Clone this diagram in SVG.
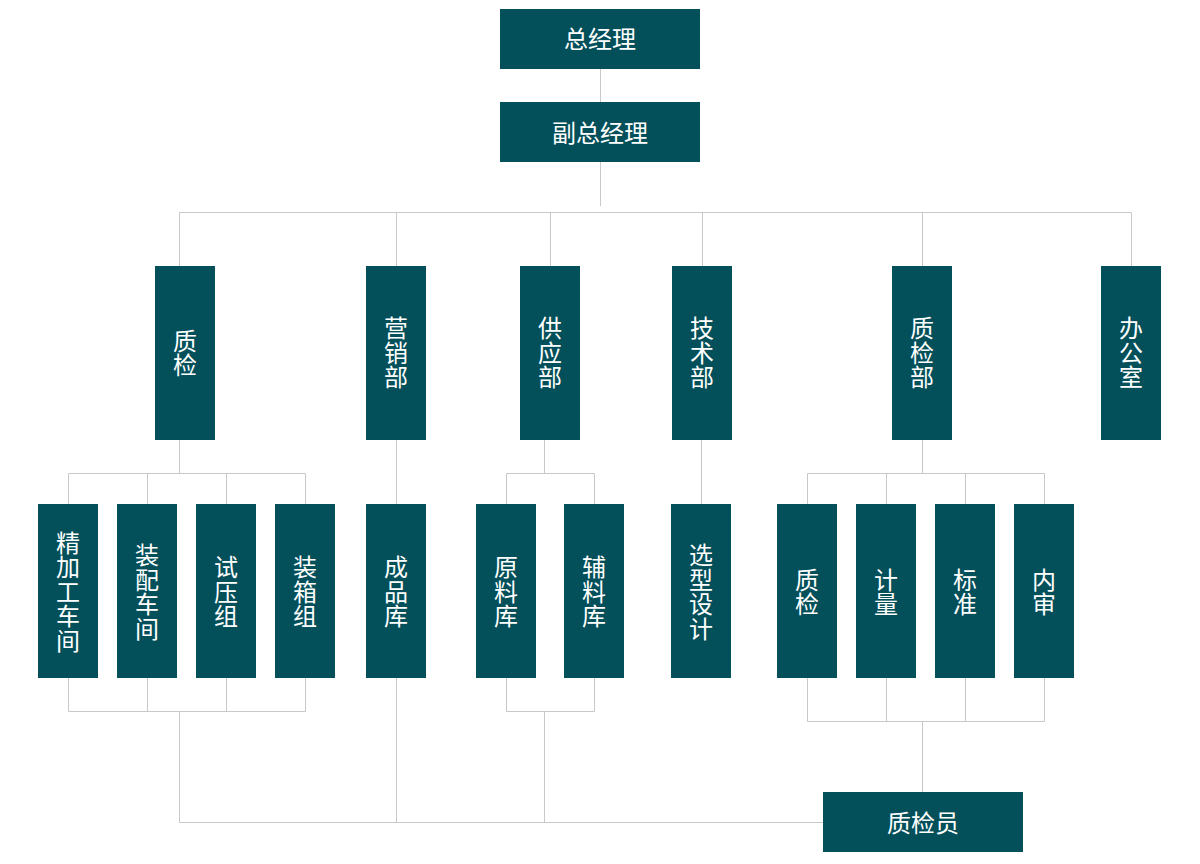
<svg xmlns="http://www.w3.org/2000/svg" width="1200" height="864" viewBox="0 0 1200 864">
<style>
.box{fill:#034f5a}
.t{fill:#ffffff;font-family:"Noto Sans CJK SC","Noto Sans",sans-serif;font-size:24px;text-anchor:middle;dominant-baseline:central}
.v{fill:#ffffff;font-family:"Noto Sans CJK SC","Noto Sans",sans-serif;font-size:24px;text-anchor:middle;writing-mode:vertical-rl;letter-spacing:0.5px}
.c{fill:none;stroke:#c8c8c8;stroke-width:1}
</style>
<rect width="1200" height="864" fill="#ffffff"/>
<g id="connectors" class="c">
<path d="M600.5 69V102M600.5 162V206"/>
<path d="M179.5 266V212.5H1131.5V266M396.5 212.5V266M550.5 212.5V266M702.5 212.5V266M922.5 212.5V266"/>
<path d="M179.5 440V473.5M68.5 504V473.5H305.5V504M147.5 473.5V504M226.5 473.5V504"/>
<path d="M68.5 678V711.5H305.5V678M147.5 678V711.5M226.5 678V711.5M179.5 711.5V822.5H823"/>
<path d="M396.5 440V504M396.5 678V822.5"/>
<path d="M544.5 440V473.5M506.5 504V473.5H594.5V504M506.5 678V711.5H594.5V678M544.5 711.5V822.5"/>
<path d="M701.5 440V504"/>
<path d="M922.5 440V473.5M807.5 504V473.5H1044.5V504M886.5 473.5V504M965.5 473.5V504"/>
<path d="M807.5 678V721.5H1044.5V678M886.5 678V721.5M965.5 678V721.5M922.5 721.5V792"/>
</g>
<g id="n-gm"><rect class="box" x="500" y="9" width="200" height="60"/><text class="t" x="600" y="37">总经理</text></g>
<g id="n-dgm"><rect class="box" x="500" y="102" width="200" height="60"/><text class="t" x="600" y="131">副总经理</text></g>
<g id="n-zj"><rect class="box" x="155" y="266" width="60" height="174"/><text class="v" x="185" y="353">质检</text></g>
<g id="n-yxb"><rect class="box" x="366" y="266" width="60" height="174"/><text class="v" x="396" y="353">营销部</text></g>
<g id="n-gyb"><rect class="box" x="520" y="266" width="60" height="174"/><text class="v" x="550" y="353">供应部</text></g>
<g id="n-jsb"><rect class="box" x="672" y="266" width="60" height="174"/><text class="v" x="702" y="353">技术部</text></g>
<g id="n-zjb"><rect class="box" x="892" y="266" width="60" height="174"/><text class="v" x="922" y="353">质检部</text></g>
<g id="n-bgs"><rect class="box" x="1101" y="266" width="60" height="174"/><text class="v" x="1131" y="353">办公室</text></g>
<g id="n-jjg"><rect class="box" x="38" y="504" width="60" height="174"/><text class="v" x="68" y="592">精加工车间</text></g>
<g id="n-zp"><rect class="box" x="117" y="504" width="60" height="174"/><text class="v" x="147" y="592">装配车间</text></g>
<g id="n-sy"><rect class="box" x="196" y="504" width="60" height="174"/><text class="v" x="226" y="592">试压组</text></g>
<g id="n-zx"><rect class="box" x="275" y="504" width="60" height="174"/><text class="v" x="305" y="592">装箱组</text></g>
<g id="n-cpk"><rect class="box" x="366" y="504" width="60" height="174"/><text class="v" x="396" y="592">成品库</text></g>
<g id="n-ylk"><rect class="box" x="476" y="504" width="60" height="174"/><text class="v" x="506" y="592">原料库</text></g>
<g id="n-flk"><rect class="box" x="564" y="504" width="60" height="174"/><text class="v" x="594" y="592">辅料库</text></g>
<g id="n-xxsj"><rect class="box" x="671" y="504" width="60" height="174"/><text class="v" x="701" y="592">选型设计</text></g>
<g id="n-zj2"><rect class="box" x="777" y="504" width="60" height="174"/><text class="v" x="807" y="592">质检</text></g>
<g id="n-jl"><rect class="box" x="856" y="504" width="60" height="174"/><text class="v" x="886" y="592">计量</text></g>
<g id="n-bz"><rect class="box" x="935" y="504" width="60" height="174"/><text class="v" x="965" y="592">标准</text></g>
<g id="n-ns"><rect class="box" x="1014" y="504" width="60" height="174"/><text class="v" x="1044" y="592">内审</text></g>
<g id="n-zjy"><rect class="box" x="823" y="792" width="200" height="60"/><text class="t" x="923" y="821">质检员</text></g>
</svg>
